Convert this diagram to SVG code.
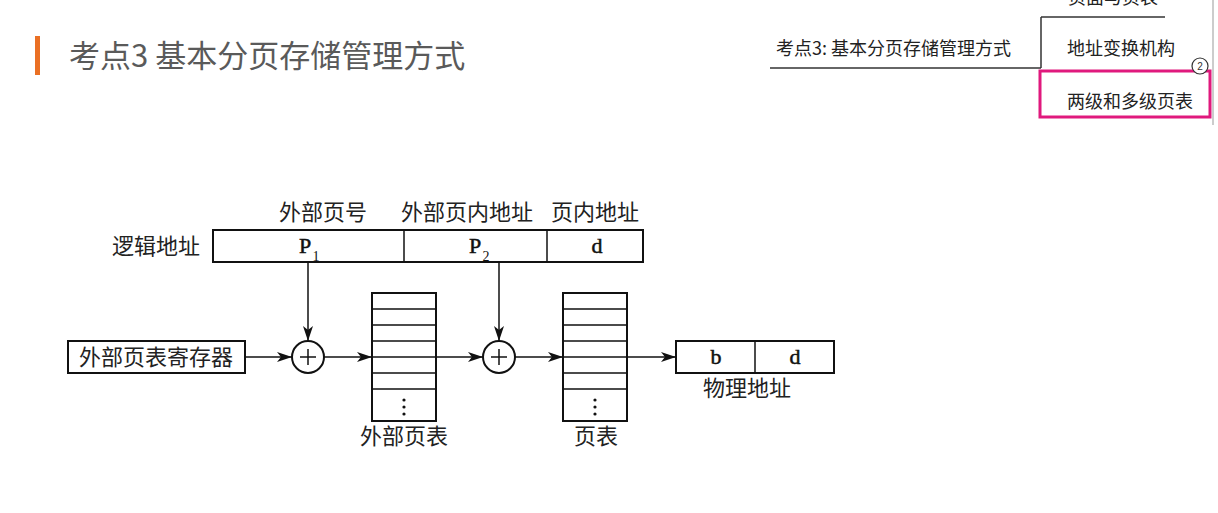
<svg xmlns="http://www.w3.org/2000/svg" width="1218" height="513" viewBox="0 0 1218 513">
<defs>
<style>
.cn{font-family:"Noto Sans CJK SC","Noto Sans",sans-serif;fill:#222;font-size:22px}
.lat{font-family:"Liberation Serif","DejaVu Serif",serif;fill:#111;font-size:22px;stroke:#111;stroke-width:0.5}
.sub{font-family:"Liberation Serif","DejaVu Serif",serif;fill:#111;font-size:14px}
.box{fill:#fff;stroke:#111;stroke-width:2}
.ln{fill:none;stroke:#111;stroke-width:1.5}
.nav{font-family:"Noto Sans CJK SC","Noto Sans",sans-serif;fill:#222;font-size:18px}
</style>
<marker id="ah" markerWidth="16" markerHeight="10" refX="15" refY="5" orient="auto" markerUnits="userSpaceOnUse">
<path d="M0,0 L15,5 L0,10 L4,5 Z" fill="#111"/>
</marker>
</defs>
<rect width="1218" height="513" fill="#fff"/>

<g id="title">
<rect x="35" y="36" width="5" height="39" fill="#ea7024"/>
<text x="69" y="67" font-family="'Noto Sans CJK SC','Noto Sans',sans-serif" font-size="31" fill="#5a5a5a">考点3 基本分页存储管理方式</text>
</g>

<g id="nav">
<text class="nav" x="1068" y="4">页面与页表</text>
<line x1="1041" y1="17" x2="1165" y2="17" stroke="#333" stroke-width="1.5"/>
<line x1="1041" y1="17" x2="1041" y2="68" stroke="#333" stroke-width="1.5"/>
<line x1="770" y1="68" x2="1041" y2="68" stroke="#333" stroke-width="1.5"/>
<text class="nav" x="776" y="55">考点3: 基本分页存储管理方式</text>
<text class="nav" x="1067" y="55">地址变换机构</text>
<line x1="1213" y1="0" x2="1213" y2="125" stroke="#ccc" stroke-width="2"/>
<rect x="1040" y="71" width="170" height="46" fill="none" stroke="#e0197d" stroke-width="3"/>
<text class="nav" x="1067" y="108">两级和多级页表</text>
<circle cx="1200" cy="66" r="8" fill="#fff" stroke="#333" stroke-width="1.2"/>
<text x="1200" y="70" font-family="'Liberation Sans',sans-serif" font-size="10" fill="#333" text-anchor="middle">2</text>
</g>

<g id="logical-address">
<text class="cn" x="200" y="254" text-anchor="end">逻辑地址</text>
<rect class="box" x="213" y="230" width="430" height="32"/>
<line class="ln" x1="404" y1="230" x2="404" y2="262" stroke-width="2"/>
<line class="ln" x1="547" y1="230" x2="547" y2="262" stroke-width="2"/>
<text class="cn" x="323" y="220" text-anchor="middle">外部页号</text>
<text class="cn" x="467" y="220" text-anchor="middle">外部页内地址</text>
<text class="cn" x="595" y="220" text-anchor="middle">页内地址</text>
<text class="lat" x="305" y="253" text-anchor="middle">P</text>
<text class="sub" x="316" y="261" text-anchor="middle">1</text>
<text class="lat" x="475" y="253" text-anchor="middle">P</text>
<text class="sub" x="486" y="261" text-anchor="middle">2</text>
<text class="lat" x="597" y="253" text-anchor="middle">d</text>
</g>

<g id="outer-reg">
<rect class="box" x="68" y="341" width="177" height="32"/>
<text class="cn" x="156" y="365" text-anchor="middle" font-size="23">外部页表寄存器</text>
</g>

<g id="adder1">
<circle cx="308" cy="357" r="16" fill="#fff" stroke="#111" stroke-width="2"/>
<line class="ln" x1="300" y1="357" x2="316" y2="357"/>
<line class="ln" x1="308" y1="349" x2="308" y2="365"/>
</g>

<g id="adder2">
<circle cx="499" cy="357" r="16" fill="#fff" stroke="#111" stroke-width="2"/>
<line class="ln" x1="491" y1="357" x2="507" y2="357"/>
<line class="ln" x1="499" y1="349" x2="499" y2="365"/>
</g>

<g id="outer-table">
<rect class="box" x="372" y="293" width="64" height="128"/>
<path class="ln" stroke-width="2" d="M372,309H436M372,325H436M372,341H436M372,373H436M372,389H436"/>
<circle cx="404" cy="400" r="1.6" fill="#111"/>
<circle cx="404" cy="407" r="1.6" fill="#111"/>
<circle cx="404" cy="414" r="1.6" fill="#111"/>
<text class="cn" x="404" y="444" text-anchor="middle">外部页表</text>
</g>

<g id="page-table">
<rect class="box" x="563" y="293" width="64" height="128"/>
<path class="ln" stroke-width="2" d="M563,309H627M563,325H627M563,341H627M563,373H627M563,389H627"/>
<circle cx="595" cy="400" r="1.6" fill="#111"/>
<circle cx="595" cy="407" r="1.6" fill="#111"/>
<circle cx="595" cy="414" r="1.6" fill="#111"/>
<text class="cn" x="596" y="444" text-anchor="middle">页表</text>
</g>

<g id="physical-address">
<rect class="box" x="676" y="341" width="158" height="32"/>
<line class="ln" x1="755" y1="341" x2="755" y2="373" stroke-width="2"/>
<text class="lat" x="716" y="364" text-anchor="middle">b</text>
<text class="lat" x="795" y="364" text-anchor="middle">d</text>
<text class="cn" x="747" y="396" text-anchor="middle">物理地址</text>
</g>

<g id="connectors">
<line class="ln" x1="308" y1="262" x2="308" y2="341" marker-end="url(#ah)"/>
<line class="ln" x1="499" y1="262" x2="499" y2="341" marker-end="url(#ah)"/>
<line class="ln" x1="245" y1="357" x2="292" y2="357" marker-end="url(#ah)"/>
<line class="ln" x1="324" y1="357" x2="372" y2="357" marker-end="url(#ah)"/>
<line class="ln" x1="372" y1="357" x2="483" y2="357" marker-end="url(#ah)"/>
<line class="ln" x1="515" y1="357" x2="563" y2="357" marker-end="url(#ah)"/>
<line class="ln" x1="563" y1="357" x2="676" y2="357" marker-end="url(#ah)"/>
</g>
</svg>
